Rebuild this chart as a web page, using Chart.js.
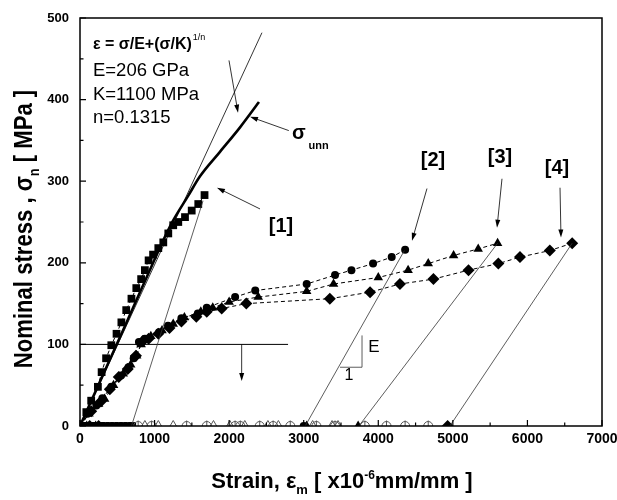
<!DOCTYPE html>
<html>
<head>
<meta charset="utf-8">
<script src="https://cdn.jsdelivr.net/npm/chart.js@4.4.0/dist/chart.umd.min.js"></script>
<style>
  html, body { margin: 0; padding: 0; background: #fff; }
</style>
</head>
<body>
<canvas id="chart" width="617" height="500"></canvas>
<script>
// ---- data (strain in x10^-6, stress in MPa) ----
const sqX = [0, 85, 150, 240, 290, 350, 420, 490, 555, 620, 690, 755, 820, 870, 920, 980, 1050, 1117, 1184, 1250, 1318, 1408, 1498, 1586, 1670];
const sqY = [0, 17, 31, 48, 66, 83, 99, 113, 127, 142, 156, 169, 180, 191, 203, 210, 218, 225, 236, 246, 250, 256, 264, 272, 283];

const ciX = [0, 100, 220, 300, 420, 550, 650, 720, 790, 870, 1060, 1180, 1360, 1580, 1700, 2080, 2350, 3040, 3420, 3640, 3930, 4180, 4360];
const ciY = [0, 15, 25, 34, 48, 62, 72, 83, 103, 107, 115, 123, 132, 138, 145, 158, 166, 174, 185, 191, 199, 207, 216];

const trX = [0, 120, 250, 330, 450, 580, 680, 760, 820, 950, 1100, 1250, 1400, 1620, 1780, 2000, 2390, 3040, 3400, 4000, 4400, 4670, 5010, 5340, 5600];
const trY = [0, 15, 27, 33, 50, 64, 75, 86, 100, 110, 117, 125, 133, 140, 145, 152, 158, 165, 174, 182, 191, 199, 209, 217, 224];

const diX = [0, 150, 280, 400, 520, 640, 750, 840, 920, 1050, 1200, 1360, 1560, 1700, 1900, 2230, 3350, 3890, 4290, 4740, 5210, 5610, 5900, 6300, 6600];
const diY = [0, 18, 30, 45, 60, 70, 86, 104, 107, 113, 120, 128, 134, 140, 144, 150, 156, 164, 174, 180, 191, 199, 207, 215, 224];

// residual strains after unloading (stress = 0)
const zeroSqX = [40, 100, 160, 220, 280, 340, 400, 460, 520, 580, 640, 700];
const zeroCiX = [60, 180, 300, 3000];
const zeroTrX = [90, 210, 3040, 3730];
const zeroDiX = [130, 250, 4930];
const openCiX = [780, 960, 1430, 1700, 2080, 2150, 2410, 2590, 2820, 3170, 3420, 3820, 4110, 4360, 4670];
const openTrX = [870, 1050, 1250, 1790, 2010, 2210, 2520, 2660, 3120, 3380, 3460];

// unloading lines [1]..[4]
const unload1X = [690, 1650], unload1Y = [0, 276];
const unload2X = [3020, 4350], unload2Y = [0, 215];
const unload3X = [3740, 5600], unload3Y = [0, 224];
const unload4X = [4960, 6600], unload4Y = [0, 224];

// elastic line and Ramberg-Osgood curve
const elasticX = [0, 2440], elasticY = [0, 482];
const unnX = [0, 600, 1000, 1150, 1250, 1450, 1609, 1877, 2146, 2400];
const unnY = [0, 122, 204, 234, 252, 282, 306, 336, 366, 397];

const levelX = [0, 2790], levelY = [100, 100];
const slopeX = [3487, 3782, 3782], slopeY = [72, 72, 111];

const xTicks = [0, 1000, 2000, 3000, 4000, 5000, 6000, 7000];
const yTicks = [0, 100, 200, 300, 400, 500];

const zip = (xs, ys) => xs.map((x, i) => ({ x, y: ys[i] }));
const zeros = xs => xs.map(x => ({ x, y: 0 }));

const FONT = 'Liberation Sans';

function series(data, style, radius, extra) {
  return Object.assign({
    data, showLine: true, borderColor: '#000', borderWidth: 1, borderDash: [4, 3],
    pointStyle: style, pointRadius: radius, pointBackgroundColor: '#000',
    pointBorderColor: '#000', pointBorderWidth: 0
  }, extra || {});
}
function plainLine(data, width, color, extra) {
  return Object.assign({ data, showLine: true, borderColor: color || '#000', borderWidth: width, pointRadius: 0 }, extra || {});
}
function marks(data, style, radius, filled, extra) {
  return Object.assign({
    data, showLine: false, pointStyle: style, pointRadius: radius,
    pointBackgroundColor: filled ? '#000' : 'rgba(0,0,0,0)',
    pointBorderColor: filled ? '#000' : '#555', pointBorderWidth: filled ? 0 : 1
  }, extra || {});
}

function arrow(ctx, x1, y1, x2, y2) {
  const a = Math.atan2(y2 - y1, x2 - x1), L = 8, W = 2.5;
  ctx.beginPath();
  ctx.moveTo(x1, y1);
  ctx.lineTo(x2 - L * 0.8 * Math.cos(a), y2 - L * 0.8 * Math.sin(a));
  ctx.stroke();
  ctx.beginPath();
  ctx.moveTo(x2, y2);
  ctx.lineTo(x2 - L * Math.cos(a) + W * Math.sin(a), y2 - L * Math.sin(a) - W * Math.cos(a));
  ctx.lineTo(x2 - L * Math.cos(a) - W * Math.sin(a), y2 - L * Math.sin(a) + W * Math.cos(a));
  ctx.closePath();
  ctx.fill();
}

// rich text: runs of {t, font, dy, gap}
function runs(ctx, parts, x, y, align) {
  let w = 0;
  parts.forEach(p => { ctx.font = p.font; w += ctx.measureText(p.t).width + (p.gap || 0); });
  let cx = align === 'center' ? x - w / 2 : x;
  parts.forEach(p => {
    ctx.font = p.font;
    cx += p.gap || 0;
    ctx.fillText(p.t, cx, y + (p.dy || 0));
    cx += ctx.measureText(p.t).width;
  });
}

const arrows = [
  { from: [1998, 448], to: [2119, 384] },
  { from: [2800, 362], to: [2280, 379] },
  { from: [2414, 266], to: [1837, 292] },
  { from: [4653, 291], to: [4452, 227] },
  { from: [5659, 303], to: [5592, 243] },
  { from: [6437, 292], to: [6450, 231] },
  { from: [2168, 100], to: [2168, 55] }
];

const decor = {
  id: 'decor',
  afterDatasetsDraw(chart) {
    const { ctx, chartArea: a, scales: { x, y } } = chart;
    const px = v => x.getPixelForValue(v), py = v => y.getPixelForValue(v);
    ctx.save();
    ctx.strokeStyle = '#000';
    ctx.fillStyle = '#000';
    ctx.lineWidth = 1.5;
    ctx.strokeRect(a.left, a.top, a.right - a.left, a.bottom - a.top);

    // inward ticks
    ctx.lineWidth = 1.2;
    ctx.beginPath();
    for (let v = 0; v <= 7000; v += 500) {
      const p = px(v), len = v % 1000 === 0 ? 6 : 3.5;
      ctx.moveTo(p, a.bottom); ctx.lineTo(p, a.bottom - len);
    }
    for (let v = 0; v <= 500; v += 50) {
      const p = py(v), len = v % 100 === 0 ? 6 : 3.5;
      ctx.moveTo(a.left, p); ctx.lineTo(a.left + len, p);
    }
    ctx.stroke();

    // arrows
    ctx.lineWidth = 0.8;
    arrows.forEach(r => arrow(ctx, px(r.from[0]), py(r.from[1]), px(r.to[0]), py(r.to[1])));

    // labels
    ctx.textBaseline = 'middle';
    ctx.textAlign = 'left';
    const tx = px(174);
    runs(ctx, [
      { t: 'ε = σ/E+(σ/K)', font: `bold 16px ${FONT}` },
      { t: '1/n', font: `9px ${FONT}`, dy: -7, gap: 1 }
    ], tx, py(467));
    ctx.font = `18.5px ${FONT}`;
    ctx.fillText('E=206 GPa', tx, py(435));
    ctx.fillText('K=1100 MPa', tx, py(406));
    ctx.fillText('n=0.1315', tx, py(378));

    runs(ctx, [
      { t: 'σ', font: `bold 20px ${FONT}` },
      { t: 'unn', font: `bold 11px ${FONT}`, dy: 12, gap: 3 }
    ], px(2842), py(358));

    ctx.font = `bold 20px ${FONT}`;
    ctx.textAlign = 'center';
    ctx.fillText('[1]', px(2695), py(245));
    ctx.fillText('[2]', px(4734), py(325));
    ctx.fillText('[3]', px(5632), py(329));
    ctx.fillText('[4]', px(6397), py(316));

    ctx.font = `17px ${FONT}`;
    ctx.fillText('E', px(3943), py(96));
    ctx.font = `16px ${FONT}`;
    ctx.fillText('1', px(3607), py(62));

    // axis titles
    ctx.textBaseline = 'alphabetic';
    ctx.textAlign = 'left';
    runs(ctx, [
      { t: 'Strain, ε', font: `bold 22px ${FONT}` },
      { t: 'm', font: `bold 13px ${FONT}`, dy: 6 },
      { t: ' [ x10', font: `bold 22px ${FONT}` },
      { t: '-6', font: `bold 12px ${FONT}`, dy: -9 },
      { t: 'mm/mm ]', font: `bold 22px ${FONT}` }
    ], (a.left + a.right) / 2 + 1, 488, 'center');

    ctx.translate(32, 229);
    ctx.rotate(-Math.PI / 2);
    ctx.scale(0.85, 1);
    runs(ctx, [
      { t: 'Nominal stress , σ', font: `bold 26px ${FONT}` },
      { t: 'n', font: `bold 15px ${FONT}`, dy: 7 },
      { t: ' [ MPa ]', font: `bold 26px ${FONT}` }
    ], 0, 0, 'center');
    ctx.restore();
  }
};

new Chart(document.getElementById('chart'), {
  type: 'scatter',
  data: {
    datasets: [
      plainLine(zip(elasticX, elasticY), 0.8),
      plainLine(zip(unnX, unnY), 2.6, '#000', { cubicInterpolationMode: 'monotone' }),
      plainLine(zip(unload1X, unload1Y), 0.8, '#333'),
      plainLine(zip(unload2X, unload2Y), 0.8, '#333'),
      plainLine(zip(unload3X, unload3Y), 0.8, '#333'),
      plainLine(zip(unload4X, unload4Y), 0.8, '#333'),
      plainLine(zip(levelX, levelY), 1),
      plainLine(zip(slopeX, slopeY), 0.8, '#333'),
      series(zip(sqX, sqY), 'rect', 5.5),
      series(zip(ciX, ciY), 'circle', 4),
      series(zip(trX, trY), 'triangle', 5.5),
      series(zip(diX, diY), 'rectRot', 6),
      marks(zeros(openCiX), 'circle', 4.5, false),
      marks(zeros(openCiX), 'line', 5.5, false, { pointRotation: 90 }),
      marks(zeros(openTrX), 'triangle', 5.5, false),
      marks(zeros(zeroSqX), 'rect', 5.5, true),
      marks(zeros(zeroCiX), 'circle', 4, true),
      marks(zeros(zeroTrX), 'triangle', 5.5, true),
      marks(zeros(zeroDiX), 'rectRot', 6, true)
    ]
  },
  options: {
    responsive: false,
    animation: false,
    devicePixelRatio: 1,
    layout: { padding: { left: 0, right: 15, top: 18, bottom: 0 } },
    plugins: { legend: { display: false }, tooltip: { enabled: false } },
    elements: { line: { tension: 0 } },
    scales: {
      x: {
        type: 'linear', min: 0, max: 7000,
        grid: { display: false, drawTicks: false },
        border: { display: false },
        afterBuildTicks: s => { s.ticks = xTicks.map(v => ({ value: v })); },
        afterFit: s => { s.height = 74; s.paddingLeft = 0; s.paddingRight = 0; },
        ticks: {
          padding: 5, color: '#000', maxRotation: 0,
          font: { family: FONT, size: 14, weight: 'bold' },
          callback: v => String(v)
        }
      },
      y: {
        type: 'linear', min: 0, max: 500,
        grid: { display: false, drawTicks: false },
        border: { display: false },
        afterBuildTicks: s => { s.ticks = yTicks.map(v => ({ value: v })); },
        afterFit: s => { s.width = 80; s.paddingTop = 0; s.paddingBottom = 0; },
        ticks: {
          padding: 11, color: '#000',
          font: { family: FONT, size: 13, weight: 'bold' },
          callback: v => String(v)
        }
      }
    }
  },
  plugins: [decor]
});
</script>
</body>
</html>
